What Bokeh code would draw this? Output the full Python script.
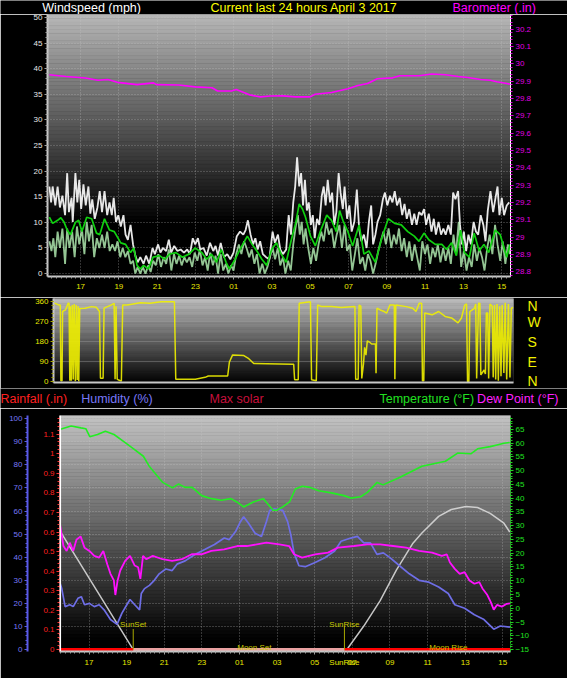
import numpy as np
from bokeh.plotting import figure
from bokeh.models import Range1d, LinearAxis, FixedTicker, Label, Span
from bokeh.layouts import column
from bokeh.embed import file_html
from bokeh.resources import INLINE

FONT = "Liberation Sans"

# ---------------- data (time = hours since 2 April 00:00) ----------------
HOUR_TICKS = [17, 19, 21, 23, 25, 27, 29, 31, 33, 35, 37, 39]
HOUR_LABELS = ["17", "19", "21", "23", "01", "03", "05", "07", "09", "11", "13", "15"]

WIND_TICKS = [0, 5, 10, 15, 20, 25, 30, 35, 40, 45, 50]
BARO_TICKS = [28.8, 28.9, 29.0, 29.1, 29.2, 29.3, 29.4, 29.5, 29.6, 29.7, 29.8, 29.9, 30.0, 30.1, 30.2]
BARO_LABELS = ["28.8", "28.9", "29", "29.1", "29.2", "29.3", "29.4", "29.5", "29.6", "29.7",
               "29.8", "29.9", "30", "30.1", "30.2"]
DIR_TICKS = [0, 90, 180, 270, 360]
DIR_LETTERS = ["N", "E", "S", "W", "N"]
RAIN_TICKS = [0, 0.1, 0.2, 0.3, 0.4, 0.5, 0.6, 0.7, 0.8, 0.9, 1.0, 1.1]
RAIN_LABELS = ["0", "0.1", "0.2", "0.3", "0.4", "0.5", "0.6", "0.7", "0.8", "0.9", "1", "1.1"]
HUM_TICKS = [0, 10, 20, 30, 40, 50, 60, 70, 80, 90, 100]
TEMP_TICKS = [-15, -10, -5, 0, 5, 10, 15, 20, 25, 30, 35, 40, 45, 50, 55, 60, 65]

TITLE_MAIN = "Current last 24 hours April 3 2017"

WIND_GUST = [
    (15.37, 17), (15.46, 13.9), (15.54, 17), (15.68, 13.3), (15.80, 17), (15.92, 12.9), (16.05, 15.2),
    (16.19, 11.4), (16.30, 19.6), (16.39, 12), (16.53, 14.8), (16.59, 10.1), (16.73, 19.6), (16.83, 13.9),
    (16.93, 18.3), (17.03, 12.6), (17.15, 17.4), (17.27, 13.3), (17.41, 17), (17.51, 11.7), (17.61, 14.5),
    (17.74, 10.7), (17.88, 12.9), (18.00, 16.1), (18.12, 12), (18.25, 16.1), (18.39, 11.4), (18.51, 13.9),
    (18.63, 11.4), (18.73, 14.8), (18.85, 10.1), (18.97, 11.4), (19.10, 9.2), (19.24, 11.4), (19.35, 7.6),
    (19.47, 6.6), (19.61, 9.5), (19.74, 5.7), (19.86, 3.5), (19.98, 2.2), (20.12, 3.2), (20.29, 1.9),
    (20.42, 3.5), (20.59, 1.9), (20.76, 5), (20.88, 3.8), (21.05, 5.7), (21.17, 4.1), (21.30, 5),
    (21.47, 4.4), (21.61, 6.6), (21.73, 4.1), (21.89, 5.4), (22.06, 4.4), (22.23, 4.7), (22.40, 4.1),
    (22.57, 4.7), (22.71, 3.8), (22.86, 6.9), (22.99, 5.7), (23.13, 6.9), (23.25, 4.7), (23.42, 5),
    (23.59, 3.5), (23.76, 6), (23.93, 4.4), (24.05, 5.4), (24.18, 3.5), (24.32, 6), (24.49, 3.2),
    (24.66, 3.8), (24.82, 2.8), (24.99, 4.1), (25.16, 7.3), (25.33, 8.2), (25.50, 7.6), (25.62, 8.5),
    (25.74, 10.4), (25.88, 7.6), (26.01, 5.7), (26.13, 6.9), (26.25, 4.7), (26.38, 6.3), (26.52, 3.8),
    (26.69, 3.2), (26.86, 2.8), (27.03, 8.2), (27.15, 6), (27.31, 7.6), (27.43, 4.7),
    (27.57, 3.8), (27.74, 4.7), (27.87, 11.4), (27.99, 7.6), (28.11, 13.9), (28.21, 17), (28.31, 22.7),
    (28.42, 17), (28.52, 19.6), (28.62, 13.3), (28.72, 18.3), (28.82, 12.3), (28.92, 13.9), (29.03, 9.5),
    (29.13, 11.4), (29.23, 6.9), (29.35, 10.7), (29.47, 9.5), (29.60, 15.2), (29.70, 17), (29.80, 13.3),
    (29.91, 18.3), (30.03, 13.9), (30.14, 15.8), (30.25, 9.5), (30.36, 12), (30.48, 19.6), (30.58, 15.8),
    (30.70, 12.6), (30.79, 17), (30.92, 10.7), (31.04, 13.3), (31.16, 8.2), (31.30, 10.1), (31.43, 16.4),
    (31.55, 8.8), (31.67, 6.3), (31.80, 7.6), (31.94, 5), (32.06, 10.1), (32.18, 13.3), (32.28, 5.7),
    (32.40, 7.6), (32.51, 10.1), (32.65, 11.4), (32.79, 14.5), (32.90, 15.8), (33.02, 13.3), (33.16, 15.2),
    (33.29, 13.9), (33.41, 16.1), (33.53, 13.3), (33.67, 14.8), (33.80, 11.4), (33.92, 13.6), (34.04, 10.7),
    (34.17, 12.6), (34.31, 9.5), (34.43, 11.7), (34.55, 9.5), (34.68, 12), (34.82, 11.4), (34.94, 12.6),
    (35.05, 9.5), (35.19, 11.7), (35.33, 8.2), (35.45, 10.7), (35.56, 7.6), (35.70, 10.1), (35.83, 7.6),
    (35.95, 8.8), (36.07, 7.6), (36.21, 9.5), (36.34, 7.6), (36.46, 15.8), (36.58, 14.5), (36.72, 16.1),
    (36.82, 9.5), (36.92, 5.7), (37.02, 8.2), (37.14, 4.4), (37.26, 7.6), (37.39, 5.7), (37.53, 10.1),
    (37.65, 8.2), (37.77, 7.6), (37.90, 11.4), (38.04, 9.5), (38.15, 6.3), (38.27, 12.3), (38.41, 16.1),
    (38.55, 12), (38.66, 14.5), (38.78, 17), (38.88, 11.4), (39.00, 14.8), (39.12, 11.4), (39.26, 13.3),
    (39.39, 13.9),
]

WIND_SPEED = [
    (15.37, 6.3), (15.48, 4.4), (15.58, 6.9), (15.68, 3.2), (15.80, 8.2), (15.92, 5), (16.05, 8.8),
    (16.19, 1.9), (16.30, 8.8), (16.42, 5), (16.56, 8.2), (16.69, 3.2), (16.81, 9.2), (16.93, 5.7),
    (17.07, 8.8), (17.20, 3.8), (17.32, 10.1), (17.44, 6.3), (17.58, 9.5), (17.71, 3.2), (17.85, 6.9),
    (17.98, 5), (18.12, 7.6), (18.25, 5), (18.39, 8.2), (18.52, 4.4), (18.66, 5.7), (18.80, 4.4),
    (18.93, 6.3), (19.07, 3.2), (19.20, 5), (19.34, 3.2), (19.47, 4.4), (19.61, 1.9), (19.74, 2.5),
    (19.86, 0), (19.98, 1.3), (20.12, 0), (20.25, 1.3), (20.39, 0), (20.54, 1.6), (20.66, 0.3),
    (20.79, 2.5), (20.93, 1.6), (21.06, 3.8), (21.20, 1.3), (21.34, 3.2), (21.47, 1.9), (21.61, 4.7),
    (21.74, 0.6), (21.88, 3.8), (22.01, 1.9), (22.15, 3.5), (22.28, 1.6), (22.42, 3.2), (22.55, 2.2),
    (22.69, 3.2), (22.83, 1.3), (22.96, 4.1), (23.10, 2.5), (23.23, 4.7), (23.37, 1.6), (23.50, 3.2),
    (23.64, 0.6), (23.77, 4.1), (23.91, 1.6), (24.05, 3.5), (24.18, 0), (24.32, 3.8), (24.45, 0.6),
    (24.59, 1.9), (24.72, 0), (24.86, 1.6), (24.99, 0.6), (25.13, 3.8), (25.27, 5.7), (25.40, 3.8),
    (25.54, 6.3), (25.67, 5), (25.81, 3.2), (25.94, 4.7), (26.08, 1.9), (26.21, 3.8), (26.35, 0),
    (26.49, 1.9), (26.62, 0), (26.76, 1.3), (26.89, 3.2), (27.03, 5), (27.16, 2.8), (27.30, 5),
    (27.43, 1.6), (27.57, 3.2),
    (27.70, 0), (27.84, 2.5), (27.98, 0.6), (28.11, 5.7), (28.25, 9.5), (28.35, 11.4), (28.45, 7.6),
    (28.55, 10.1), (28.65, 5.7), (28.75, 8.8), (28.89, 5), (29.03, 1.9), (29.16, 5), (29.30, 2.5),
    (29.43, 5.7), (29.57, 8.2), (29.70, 6.3), (29.84, 10.1), (29.97, 7.6), (30.11, 8.8), (30.25, 5),
    (30.38, 7.6), (30.52, 9.5), (30.65, 5), (30.79, 9.5), (30.92, 4.4), (31.06, 5.7), (31.19, 0.6),
    (31.33, 3.8), (31.46, 6.9), (31.60, 1.9), (31.74, 3.2), (31.87, 0.6), (32.01, 3.8), (32.14, 2.5),
    (32.28, 0), (32.41, 1.9), (32.55, 4.4), (32.68, 6.3), (32.82, 8.2), (32.95, 5.7), (33.09, 8.8),
    (33.23, 5), (33.36, 7.6), (33.50, 5.7), (33.63, 8.8), (33.77, 4.4), (33.90, 6.9), (34.04, 3.2),
    (34.17, 6.3), (34.31, 2.5), (34.45, 5.7), (34.58, 3.2), (34.72, 0.6), (34.85, 6.3), (34.99, 3.8),
    (35.12, 5.7), (35.26, 1.9), (35.39, 5), (35.53, 3.2), (35.66, 5.7), (35.80, 2.2), (35.94, 5),
    (36.07, 2.5), (36.21, 5), (36.34, 1.9), (36.48, 7.6), (36.61, 3.8), (36.75, 10.1), (36.88, 1.3),
    (37.02, 4.4), (37.16, 0.6), (37.29, 3.2), (37.43, 1.3), (37.56, 5.7), (37.70, 2.5), (37.83, 5),
    (37.97, 3.2), (38.10, 0.6), (38.24, 5), (38.37, 7.6), (38.51, 3.8), (38.65, 9.5), (38.78, 5.7),
    (38.92, 2.5), (39.05, 6.3), (39.19, 1.9), (39.32, 5.7), (39.43, 3.8),
]

WIND_AVG = [
    (15.37, 11), (15.54, 9.8), (15.80, 10.4), (15.97, 10.9), (16.14, 10), (16.30, 8.5), (16.47, 7.6),
    (16.73, 10), (16.90, 10.4), (17.07, 8.2), (17.32, 11), (17.58, 10.7), (17.83, 7.9), (18.00, 7.6),
    (18.25, 10.7), (18.51, 8.5), (18.76, 8.2), (19.10, 6), (19.35, 5.7), (19.61, 4.1), (19.78, 5),
    (19.95, 1.6), (20.12, 0.9), (20.29, 1.6), (20.54, 0.9), (20.79, 3.2), (21.13, 3.5), (21.39, 2.8),
    (21.64, 3.8), (21.98, 4.1), (22.32, 3.2), (22.66, 3.8), (22.99, 5), (23.33, 4.1), (23.59, 2.8),
    (23.84, 3.8), (24.10, 2.2), (24.35, 4.7), (24.60, 2.2), (24.77, 0.9), (25.03, 2.5), (25.37, 5),
    (25.71, 7.3), (25.96, 5.7), (26.21, 4.4), (26.47, 2.8), (26.72, 1.6), (26.98, 4.7), (27.23, 6),
    (27.48, 3.8), (27.74, 2.2), (27.99, 6.3), (28.25, 10.1), (28.42, 13.6), (28.59, 12.6), (28.75, 11),
    (29.01, 7.3), (29.26, 5.4), (29.52, 8.2), (29.86, 11.4), (30.11, 10.4), (30.36, 8.2), (30.53, 12.3),
    (30.70, 10.4), (30.96, 8.2), (31.21, 5.4), (31.55, 9.5), (31.80, 3.8), (32.06, 4.4), (32.40, 2.2),
    (32.73, 6.9), (33.07, 10.7), (33.41, 9.8), (33.75, 9.5), (34.09, 8.2), (34.43, 7.3), (34.68, 6.3),
    (34.94, 7.9), (35.19, 6.6), (35.53, 5.7), (35.87, 5.7), (36.12, 4.7), (36.38, 6), (36.63, 3.5),
    (36.85, 8.5), (37.05, 4.1), (37.31, 3.2), (37.56, 7.9), (37.82, 4.4), (38.07, 5.7), (38.32, 4.1),
    (38.66, 8.5), (38.92, 7.6), (39.26, 3.2), (39.43, 5.7),
]

BAROMETER = [
    (15.37, 29.938), (16.24, 29.928), (17.25, 29.919), (17.91, 29.906), (18.42, 29.910), (18.93, 29.894),
    (19.95, 29.881), (20.81, 29.891), (20.96, 29.881), (22.13, 29.879), (22.99, 29.868), (23.86, 29.863),
    (24.16, 29.844), (24.88, 29.844), (25.13, 29.853), (25.89, 29.820), (26.40, 29.810), (26.91, 29.815),
    (27.57, 29.816), (28.23, 29.810), (28.99, 29.810), (29.25, 29.825), (30.11, 29.835), (30.97, 29.857),
    (31.48, 29.876), (31.99, 29.887), (32.50, 29.915), (33.31, 29.920), (33.67, 29.932), (34.68, 29.932),
    (35.34, 29.942), (36.06, 29.938), (36.72, 29.928), (37.22, 29.922), (37.89, 29.910), (38.39, 29.906),
    (38.75, 29.897), (39.26, 29.887), (39.45, 29.883),
]

WIND_DIR = [
    (15.31, 355), (15.56, 345), (15.63, 345), (15.66, 5), (15.72, 5), (15.75, 316), (15.90, 323),
    (16.04, 353), (16.09, 353), (16.13, 5), (16.16, 340), (16.21, 5), (16.26, 345), (16.31, 10),
    (16.36, 350), (16.42, 3), (16.47, 345), (16.52, 8), (16.57, 340), (16.60, 2), (16.65, 330),
    (16.93, 331), (17.27, 338), (17.52, 335), (17.69, 316), (17.74, 16), (17.88, 16), (17.93, 331),
    (18.29, 345), (18.46, 353), (18.51, 12), (18.56, 340), (18.62, 12), (18.70, 8), (18.84, 3),
    (18.91, 345), (19.14, 345), (19.31, 348), (19.83, 355), (20.34, 353), (20.93, 360), (21.63, 360),
    (21.70, 12), (22.73, 12), (23.24, 20), (23.41, 26), (24.43, 26), (24.52, 89), (24.69, 121),
    (25.28, 118), (25.54, 104), (25.80, 82), (27.84, 79), (27.90, 79), (27.95, 9), (28.14, 9),
    (28.19, 353), (28.78, 360), (28.84, 9), (29.09, 5), (29.16, 345), (29.38, 338), (29.89, 338),
    (30.40, 334), (31.12, 338), (31.16, 12), (31.29, 12), (31.34, 345), (31.43, 340), (31.48, 15),
    (31.57, 80), (31.63, 155), (31.70, 120), (31.77, 184), (31.91, 177), (32.00, 170), (32.20, 170),
    (32.23, 38), (32.28, 331), (32.45, 323), (32.66, 316), (32.79, 309), (32.96, 345), (33.19, 345),
    (33.22, 12), (33.27, 345), (33.82, 338), (34.16, 331), (34.33, 316), (34.50, 353), (34.63, 353),
    (34.67, 5), (34.74, 5), (34.79, 309), (35.18, 301), (35.52, 316), (35.86, 294), (36.20, 287),
    (36.54, 265), (36.72, 287), (36.89, 345), (36.99, 350), (37.04, 1), (37.11, 1), (37.16, 316),
    (37.40, 330), (37.47, 350), (37.52, 15), (37.62, 353), (37.69, 353), (37.74, 31), (37.91, 53),
    (37.98, 35), (38.03, 309), (38.10, 309), (38.15, 15), (38.22, 350), (38.34, 340), (38.39, 20),
    (38.46, 345), (38.52, 10), (38.59, 350), (38.66, 5), (38.73, 340), (38.80, 25), (38.86, 345),
    (38.95, 40), (39.02, 355), (39.10, 10), (39.19, 350), (39.27, 20), (39.34, 330), (39.44, 335),
]

TEMPERATURE = [
    (15.43, 64.9), (16.05, 66.2), (16.57, 65.5), (16.83, 65.2), (17.04, 62.3), (17.45, 63.1), (17.87, 64.3),
    (18.33, 63.1), (18.85, 60.5), (19.37, 57.9), (19.89, 55.2), (20.20, 51.6), (20.92, 45.7), (21.44, 43.7),
    (21.75, 45.1), (22.11, 43.9), (22.48, 43.9), (22.99, 40.9), (23.51, 39.8), (24.03, 39.2), (24.55, 39.8),
    (24.86, 38.6), (25.22, 36.8), (25.74, 38.6), (26.26, 39.8), (26.52, 37.8), (26.78, 35.6), (26.98, 35.6),
    (27.30, 36.8), (27.66, 38.6), (27.97, 43.3), (28.33, 44.3), (28.69, 44.0), (29.21, 42.7), (29.89, 41.9),
    (30.56, 40.9), (30.92, 40.0), (31.44, 40.5), (31.80, 42.1), (32.32, 45.7), (32.63, 44.8), (33.51, 47.5),
    (34.70, 51.6), (35.95, 53.4), (36.62, 56.4), (37.30, 56.1), (37.66, 57.9), (38.33, 58.7), (38.69, 59.3),
    (39.06, 59.9), (39.37, 60.2),
]

HUMIDITY = [
    (15.47, 28.5), (15.55, 26.4), (15.73, 18.6), (15.98, 19.4), (16.16, 18.6), (16.41, 22.2), (16.59, 22.9),
    (16.76, 19.4), (17.02, 20.0), (17.28, 18.6), (17.54, 19.4), (17.80, 17.2), (18.14, 13.0), (18.49, 10.9),
    (18.75, 15.8), (19.01, 19.4), (19.18, 21.7), (19.43, 19.4), (19.69, 17.2), (19.78, 24.3), (19.95, 26.4),
    (20.21, 27.8), (20.47, 30.0), (20.73, 32.8), (21.08, 34.9), (21.42, 34.2), (21.68, 37.0), (22.11, 38.4),
    (22.63, 41.2), (23.15, 43.3), (23.67, 45.5), (24.19, 48.3), (24.45, 47.6), (24.79, 51.1), (25.05, 55.4),
    (25.22, 57.5), (25.48, 54.7), (25.83, 50.4), (26.17, 49.0), (26.43, 55.4), (26.61, 60.3), (26.87, 61.0),
    (27.30, 60.3), (27.56, 55.4), (27.73, 49.7), (27.90, 41.9), (28.16, 36.3), (28.50, 35.9), (29.02, 37.7),
    (29.54, 39.8), (30.06, 42.7), (30.40, 46.9), (30.92, 48.3), (31.27, 49.0), (31.61, 46.2), (31.96, 46.2),
    (32.31, 41.2), (32.65, 41.9), (33.00, 39.8), (33.51, 36.3), (34.03, 32.8), (34.55, 30.0), (35.07, 29.2),
    (35.59, 27.1), (36.10, 24.3), (36.45, 19.4), (36.97, 17.9), (37.49, 15.1), (38.00, 13.0), (38.52, 8.8),
    (38.87, 10.2), (39.38, 9.7),
]

DEW_POINT = [
    (15.47, 30.0), (15.64, 22.6), (15.81, 20.8), (15.98, 23.8), (16.16, 20.8), (16.33, 24.9), (16.55, 26.1),
    (16.76, 22.0), (17.02, 20.8), (17.28, 19.0), (17.54, 18.4), (17.76, 20.8), (17.97, 16.0), (18.14, 12.5),
    (18.32, 10.1), (18.40, 4.8), (18.52, 10.1), (18.66, 13.7), (18.92, 17.2), (19.18, 19.0), (19.43, 15.5),
    (19.61, 14.9), (19.73, 10.7), (19.87, 19.0), (20.04, 17.8), (20.39, 19.0), (20.91, 17.8), (21.42, 17.2),
    (21.94, 17.8), (22.46, 19.6), (22.98, 19.6), (23.50, 20.8), (24.19, 21.4), (24.88, 22.6), (25.39, 22.6),
    (26.43, 23.8), (27.12, 23.2), (27.64, 22.6), (27.90, 19.6), (28.33, 18.4), (29.02, 19.6), (29.71, 20.2),
    (30.23, 22.0), (31.09, 22.6), (31.79, 23.2), (32.48, 23.2), (33.17, 22.6), (33.86, 22.0), (34.55, 20.8),
    (35.24, 20.2), (35.76, 19.0), (36.02, 19.6), (36.19, 16.6), (36.45, 14.3), (36.71, 12.5), (36.97, 13.1),
    (37.23, 10.1), (37.49, 8.9), (37.75, 9.5), (37.92, 7.2), (38.18, 4.8), (38.35, 2.4), (38.52, -0.5),
    (38.69, 1.2), (38.95, 0.6), (39.21, 1.6), (39.38, 1.8),
]

MAX_SOLAR = [  # drawn on the rainfall scale
    (15.43, 0.61), (19.35, 0.0), (30.58, 0.0), (30.75, 0.005), (31.61, 0.12), (32.48, 0.25), (33.34, 0.405),
    (34.20, 0.54), (34.70, 0.595), (35.59, 0.68), (36.26, 0.715), (37.04, 0.73), (37.66, 0.725),
    (38.33, 0.695), (39.06, 0.645), (39.37, 0.60),
]

RAINFALL = [(15.43, 0.0), (39.41, 0.0)]

SUNSET_H = 19.35
SUNRISE_H = 30.58
MOONSET_H = 25.79
MOONRISE_H = 36.10

# ---------------- helpers ----------------
W = 567


def base_fig(h, xr, yr, bl, br, bt, bb):
    return figure(width=W, height=h, x_range=Range1d(*xr), y_range=Range1d(*yr),
                  output_backend="svg", toolbar_location=None, title=None, frame_align=False,
                  min_border_left=bl, min_border_right=br, min_border_top=bt, min_border_bottom=bb,
                  background_fill_color="black", border_fill_color="black", outline_line_color=None)


def header_fig(h):
    p = figure(width=W, height=h, x_range=Range1d(0, W), y_range=Range1d(h, 0),
               output_backend="svg", toolbar_location=None, title=None, frame_align=False,
               x_axis_location=None, y_axis_location=None,
               min_border_left=0, min_border_right=0, min_border_top=0, min_border_bottom=0,
               background_fill_color="black", border_fill_color="black", outline_line_color=None)
    p.xgrid.visible = False
    p.ygrid.visible = False
    return p


def header_text(p, px, py, text, color, size="12.5px"):
    p.add_layout(Label(x=px, y=py, text=text, text_color=color, text_font=FONT,
                       text_font_size=size, text_align="left", text_baseline="middle"))


def gradient(p, xr, yr, top, black_at, n=70):
    edges = np.linspace(yr[1], yr[0], n + 1)
    t = (np.arange(n) + 0.5) / n
    v = np.clip(top * (1 - t / black_at), 0, 255).astype(int)
    cols = ["#%02x%02x%02x" % (c, c, c) for c in v]
    r = p.quad(left=xr[0], right=xr[1], top=edges[:-1], bottom=edges[1:],
               fill_color=cols, line_color=cols, line_width=0.6)
    r.level = "image"


def style_axis(ax, line, tick, label, size="8px", line_width=1):
    ax.axis_line_color = line
    ax.axis_line_width = line_width
    ax.major_tick_line_color = tick
    ax.minor_tick_line_color = tick
    ax.major_label_text_color = label
    ax.major_label_text_font = FONT
    ax.major_label_text_font_size = size
    ax.major_tick_out = 3
    ax.major_tick_in = 0
    ax.minor_tick_out = 2
    ax.minor_tick_in = 0
    ax.major_label_standoff = 2


def style_grid(g, color="#c8c8c8", alpha=0.5):
    g.grid_line_color = color
    g.grid_line_dash = "1 2"
    g.grid_line_alpha = alpha


def unzip(pairs):
    return [a for a, _ in pairs], [b for _, b in pairs]


minor_hours = [15.5 + 0.25 * i for i in range(96)]

# ---------------- header 1 ----------------
h1 = header_fig(14)
header_text(h1, 41.8, 7.0, "Windspeed (mph)", "#ffffff")
header_text(h1, 210, 7.0, TITLE_MAIN, "#ffff00")
header_text(h1, 452, 7.0, "Barometer (.in)", "#ff00ff")

# ---------------- panel 1: wind + barometer ----------------
xr1 = (15.272, 39.457)
yr1 = (-0.57, 50.57)
p1 = base_fig(283, xr1, yr1, 47, 57, 0, 21)
gradient(p1, xr1, yr1, 184, 0.80)
p1.extra_y_ranges = {"baro": Range1d(28.772, 30.286)}

t, v = unzip(WIND_GUST)
p1.line(t, v, line_color="#ffffff", line_width=1.8, line_alpha=0.9)
t, v = unzip(WIND_SPEED)
p1.line(t, v, line_color="#b8f5b8", line_width=1.8, line_alpha=0.8)
t, v = unzip(WIND_AVG)
p1.line(t, v, line_color="#10d010", line_width=1.7)
t, v = unzip(BAROMETER)
p1.line(t, v, line_color="#ff00ff", line_width=1.6, y_range_name="baro")

xa = p1.xaxis[0]
xa.ticker = FixedTicker(ticks=HOUR_TICKS, minor_ticks=minor_hours)
xa.major_label_overrides = dict(zip(HOUR_TICKS, HOUR_LABELS))
style_axis(xa, "#c8c8c8", "#a0a0a0", "#e8e800", line_width=2)
xa.major_label_standoff = 4
ya = p1.yaxis[0]
ya.ticker = FixedTicker(ticks=WIND_TICKS, minor_ticks=list(range(0, 51)))
style_axis(ya, "#c8c8c8", "#a0a0a0", "#e8e8e8", line_width=2)
ba = LinearAxis(y_range_name="baro",
                ticker=FixedTicker(ticks=BARO_TICKS, minor_ticks=[28.78 + 0.02 * i for i in range(76)]),
                major_label_overrides=dict(zip(BARO_TICKS, BARO_LABELS)))
style_axis(ba, "#ffffff", "#e000e0", "#e000e0")
p1.add_layout(ba, "right")
p1.xgrid.ticker = FixedTicker(ticks=HOUR_TICKS)
p1.ygrid.ticker = FixedTicker(ticks=WIND_TICKS)
style_grid(p1.xgrid)
style_grid(p1.ygrid)

# ---------------- panel 2: wind direction ----------------
xr2 = xr1
yr2 = (-3.1, 374.5)
p2 = base_fig(91, xr2, yr2, 53, 54, 1, 6)
gradient(p2, xr2, yr2, 192, 1.02)
t, v = unzip(WIND_DIR)
p2.line(t, v, line_color="#f0f000", line_width=1.5, line_alpha=0.9)

xa2 = p2.xaxis[0]
style_axis(xa2, "#c8c8c8", None, "#000000", size="0px", line_width=2)
xa2.major_tick_out = 0
xa2.minor_tick_out = 0
xa2.major_label_standoff = 0
xa2.ticker = FixedTicker(ticks=[])
ya2 = p2.yaxis[0]
ya2.ticker = FixedTicker(ticks=DIR_TICKS, minor_ticks=[18 * i for i in range(21)])
style_axis(ya2, "#c8c8c8", "#a0a000", "#e8e800", line_width=2)
da = LinearAxis(ticker=FixedTicker(ticks=DIR_TICKS, minor_ticks=[]),
                major_label_overrides=dict(zip(DIR_TICKS, DIR_LETTERS)))
style_axis(da, None, None, "#f0f000", size="14px")
da.major_tick_out = 0
da.major_label_standoff = 14
p2.add_layout(da, "right")
p2.xgrid.visible = False
p2.ygrid.ticker = FixedTicker(ticks=[90, 180, 270])
p2.ygrid.grid_line_color = "#b0b0b0"
p2.ygrid.grid_line_alpha = 0.35

# ---------------- header 3 ----------------
h3 = header_fig(20)
header_text(h3, 0, 10.6, "Rainfall (.in)", "#ff2020")
header_text(h3, 80.7, 10.6, "Humidity (%)", "#7878f8")
header_text(h3, 209, 10.6, "Max solar", "#c8103c")
header_text(h3, 379, 10.6, "Temperature (°F)", "#20e020")
header_text(h3, 476.6, 10.6, "Dew Point (°F)", "#ff20ff")

# ---------------- panel 3: rain / humidity / solar / temperature ----------------
xr3 = (15.43, 39.41)
yr3 = (-0.01, 1.195)
p3 = base_fig(270, xr3, yr3, 59, 57, 7, 27)
gradient(p3, xr3, yr3, 196, 0.96)
p3.extra_y_ranges = {"hum": Range1d(-0.85, 101.4), "temp": Range1d(-15.71, 70.0)}

p3.add_layout(Span(location=xr3[0] + 0.03, dimension="height", line_color="#ffffff", line_width=2))

t, v = unzip(MAX_SOLAR)
p3.line(t, v, line_color="#d8d8d8", line_width=1.5, line_alpha=0.9)
t, v = unzip(HUMIDITY)
p3.line(t, v, line_color="#6e6ee6", line_width=1.7, y_range_name="hum")
t, v = unzip(DEW_POINT)
p3.line(t, v, line_color="#ff10ff", line_width=1.8, y_range_name="temp")
t, v = unzip(TEMPERATURE)
p3.line(t, v, line_color="#22ee22", line_width=1.6, y_range_name="temp")
t, v = unzip(RAINFALL)
p3.line(t, v, line_color="#ff0000", line_width=3)
p3.line([SUNSET_H, SUNRISE_H], [0, 0], line_color="#e8a0a0", line_width=3)
p3.segment(x0=[SUNSET_H, SUNRISE_H], y0=[0, 0], x1=[SUNSET_H, SUNRISE_H], y1=[0.105, 0.12],
           line_color="#a8a800", line_width=1)

for xh, yv, txt in [(SUNSET_H, 0.13, "SunSet"), (SUNRISE_H, 0.13, "SunRise"),
                    (MOONSET_H, 0.012, "Moon Set"), (MOONRISE_H, 0.012, "Moon Rise")]:
    p3.add_layout(Label(x=xh, y=yv, text=txt, text_color="#c8c800", text_font=FONT,
                        text_font_size="8px", text_align="center", text_baseline="middle"))

x3_ticks = HOUR_TICKS + [SUNRISE_H]
x3_labels = dict(zip(HOUR_TICKS, HOUR_LABELS))
x3_labels[SUNRISE_H] = "SunRise"
xa3 = p3.xaxis[0]
xa3.ticker = FixedTicker(ticks=x3_ticks, minor_ticks=minor_hours)
xa3.major_label_overrides = x3_labels
style_axis(xa3, "#c8c8c8", "#a0a0a0", "#e8e800", line_width=2)
xa3.major_label_standoff = 3

ra = p3.yaxis[0]
ra.ticker = FixedTicker(ticks=RAIN_TICKS, minor_ticks=[0.02 * i for i in range(60)])
ra.major_label_overrides = dict(zip(RAIN_TICKS, RAIN_LABELS))
style_axis(ra, "#ff3030", "#ff3030", "#ff2020")
ra.axis_line_dash = "2 2"
ra.axis_label = "."
ra.axis_label_text_alpha = 0
ra.axis_label_text_font_size = "2px"
ra.axis_label_standoff = 9

ha = LinearAxis(y_range_name="hum",
                ticker=FixedTicker(ticks=HUM_TICKS, minor_ticks=[2 * i for i in range(51)]))
style_axis(ha, "#5a5ae6", "#5a5ae6", "#7878f8", line_width=2)
p3.add_layout(ha, "left")

ta = LinearAxis(y_range_name="temp",
                ticker=FixedTicker(ticks=TEMP_TICKS, minor_ticks=list(range(-15, 70))))
style_axis(ta, "#20d020", "#20d020", "#20e020")
ta.axis_line_dash = "2 2"
p3.add_layout(ta, "right")

p3.xgrid.ticker = FixedTicker(ticks=HOUR_TICKS)
p3.ygrid.ticker = FixedTicker(ticks=HUM_TICKS[1:])
p3.ygrid.y_range_name = "hum"
style_grid(p3.xgrid)
style_grid(p3.ygrid)

layout = column(h1, p1, p2, h3, p3, spacing=0)
open("out.html", "w").write(file_html(layout, INLINE))
